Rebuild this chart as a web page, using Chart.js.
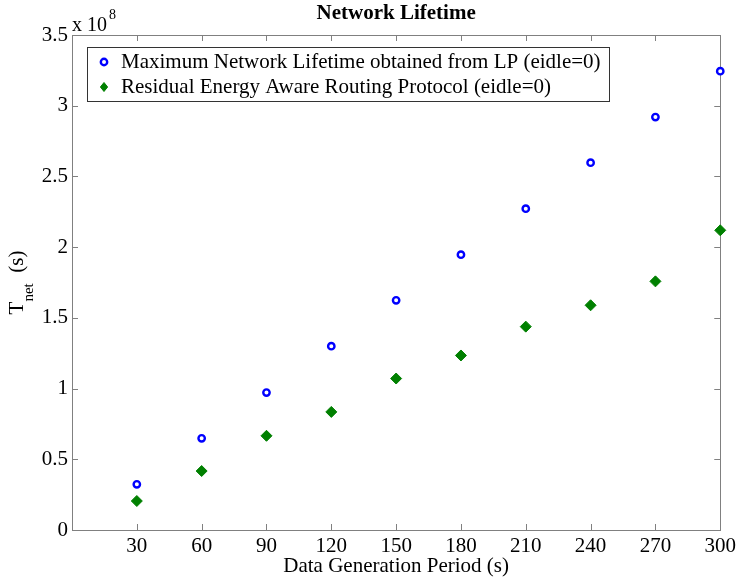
<!DOCTYPE html>
<html>
<head>
<meta charset="utf-8">
<script src="https://cdn.jsdelivr.net/npm/chart.js@4.4.0/dist/chart.umd.min.js"></script>
<style>
  body { margin: 0; background: #fff; }
</style>
</head>
<body>
<div style="width:740px;height:580px"><canvas id="c" width="740" height="580"></canvas></div>
<script>
// data generation period (s)
const periods = [30, 60, 90, 120, 150, 180, 210, 240, 270, 300];
// network lifetime, in units of 10^8 s
const lpLifetime = [0.323, 0.648, 0.972, 1.30, 1.624, 1.947, 2.272, 2.597, 2.92, 3.244];
const rearpLifetime = [0.205, 0.417, 0.666, 0.835, 1.071, 1.234, 1.438, 1.589, 1.758, 2.119];
const xTicks = [30, 60, 90, 120, 150, 180, 210, 240, 270, 300];
const yTicks = [0, 0.5, 1, 1.5, 2, 2.5, 3, 3.5];
const seriesLabels = [
  'Maximum Network Lifetime obtained from LP (eidle=0)',
  'Residual Energy Aware Routing Protocol (eidle=0)'
];

const SERIF = '"Liberation Serif", "Times New Roman", serif';
Chart.defaults.font.family = SERIF;
Chart.defaults.color = '#000';

// box, inward ticks, titles and legend, matlab style
const matlabDecor = {
  id: 'matlabDecor',
  beforeDatasetsDraw(chart) {
    const ctx = chart.ctx;
    const a = chart.chartArea;
    const xs = chart.scales.x, ys = chart.scales.y;
    ctx.save();
    ctx.strokeStyle = '#808080';
    ctx.lineWidth = 1;
    ctx.strokeRect(Math.round(a.left) + 0.5, Math.round(a.top) + 0.5,
      Math.round(a.right - a.left), Math.round(a.bottom - a.top));
    const tl = 6;
    ctx.beginPath();
    xTicks.forEach(v => {
      const px = Math.round(xs.getPixelForValue(v)) + 0.5;
      ctx.moveTo(px, a.bottom); ctx.lineTo(px, a.bottom - tl);
      ctx.moveTo(px, a.top); ctx.lineTo(px, a.top + tl);
    });
    yTicks.forEach(v => {
      const py = Math.round(ys.getPixelForValue(v)) + 0.5;
      ctx.moveTo(a.left, py); ctx.lineTo(a.left + tl, py);
      ctx.moveTo(a.right, py); ctx.lineTo(a.right - tl, py);
    });
    ctx.stroke();
    ctx.restore();
  },
  afterDraw(chart) {
    const ctx = chart.ctx;
    const a = chart.chartArea;
    ctx.save();
    ctx.fillStyle = '#000';

    // title
    ctx.font = 'bold 21px ' + SERIF;
    ctx.textAlign = 'center';
    ctx.textBaseline = 'middle';
    ctx.fillText('Network Lifetime', (a.left + a.right) / 2, 14);

    // exponent label
    ctx.textAlign = 'left';
    ctx.textBaseline = 'alphabetic';
    ctx.font = '20px ' + SERIF;
    ctx.fillText('x 10', a.left, 31);
    const w10 = ctx.measureText('x 10').width;
    ctx.font = '14px ' + SERIF;
    ctx.fillText('8', a.left + w10 + 2, 19);

    // y axis title with subscript
    ctx.translate(23, (a.top + a.bottom) / 2);
    ctx.rotate(-Math.PI / 2);
    ctx.font = '21px ' + SERIF;
    const wT = ctx.measureText('T').width;
    ctx.font = '15px ' + SERIF;
    const wNet = ctx.measureText('net').width;
    ctx.font = '21px ' + SERIF;
    const wS = ctx.measureText('  (s)').width;
    let x0 = -(wT + wNet + wS) / 2;
    ctx.fillText('T', x0, 0);
    ctx.font = '15px ' + SERIF;
    ctx.fillText('net', x0 + wT, 10);
    ctx.font = '21px ' + SERIF;
    ctx.fillText('  (s)', x0 + wT + wNet, 0);
    ctx.restore();

    // legend box
    ctx.save();
    const lx = 87, ly = 47, lw = 522, lh = 54;
    ctx.fillStyle = '#fff';
    ctx.fillRect(lx, ly, lw, lh);
    ctx.strokeStyle = '#333';
    ctx.lineWidth = 1;
    ctx.strokeRect(lx + 0.5, ly + 0.5, lw, lh);
    ctx.font = '21px ' + SERIF;
    ctx.textBaseline = 'middle';
    const rows = [62, 87];
    chart.data.datasets.forEach((ds, i) => {
      const y = rows[i];
      ctx.fillStyle = ds.pointBackgroundColor;
      ctx.strokeStyle = ds.pointBorderColor;
      ctx.lineWidth = ds.pointBorderWidth;
      ctx.beginPath();
      if (ds.pointStyle === 'circle') {
        ctx.arc(104, y, ds.pointRadius, 0, Math.PI * 2);
      } else {
        const r = ds.pointRadius - 1;
        ctx.moveTo(104, y - r); ctx.lineTo(104 + r * 0.8, y);
        ctx.lineTo(104, y + r); ctx.lineTo(104 - r * 0.8, y); ctx.closePath();
      }
      ctx.fill();
      ctx.stroke();
      ctx.fillStyle = '#000';
      ctx.fillText(ds.label, 121, y);
    });
    ctx.restore();
  }
};

new Chart(document.getElementById('c'), {
  type: 'scatter',
  data: {
    datasets: [
      {
        label: seriesLabels[0],
        data: periods.map((p, i) => ({ x: p, y: lpLifetime[i] })),
        pointStyle: 'circle',
        pointRadius: 3.2,
        pointBorderWidth: 2.4,
        pointBorderColor: '#0000ff',
        pointBackgroundColor: '#ffffff',
        clip: false
      },
      {
        label: seriesLabels[1],
        data: periods.map((p, i) => ({ x: p, y: rearpLifetime[i] })),
        pointStyle: 'rectRot',
        pointRadius: 5.5,
        pointBorderWidth: 1,
        pointBorderColor: '#008000',
        pointBackgroundColor: '#008000',
        clip: false
      }
    ]
  },
  options: {
    responsive: false,
    animation: false,
    devicePixelRatio: 1,
    layout: { padding: { left: 0, top: 35, right: 19, bottom: 0 } },
    plugins: {
      legend: { display: false },
      tooltip: { enabled: false }
    },
    scales: {
      x: {
        type: 'linear',
        min: 0,
        max: 300,
        afterBuildTicks: s => { s.ticks = xTicks.map(v => ({ value: v })); },
        afterFit: s => { s.height = 50; },
        grid: { display: false, drawTicks: false },
        border: { display: false },
        ticks: { font: { size: 21 }, color: '#000', padding: 4, maxRotation: 0 },
        title: {
          display: true,
          text: 'Data Generation Period (s)',
          font: { size: 21 },
          color: '#000',
          padding: { top: 0, bottom: 1 }
        }
      },
      y: {
        type: 'linear',
        min: 0,
        max: 3.5,
        afterBuildTicks: s => { s.ticks = yTicks.map(v => ({ value: v })); },
        afterFit: s => { s.width = 72; },
        grid: { display: false, drawTicks: false },
        border: { display: false },
        ticks: { font: { size: 21 }, color: '#000', padding: 4, callback: v => String(v) }
      }
    }
  },
  plugins: [matlabDecor]
});
</script>
</body>
</html>
